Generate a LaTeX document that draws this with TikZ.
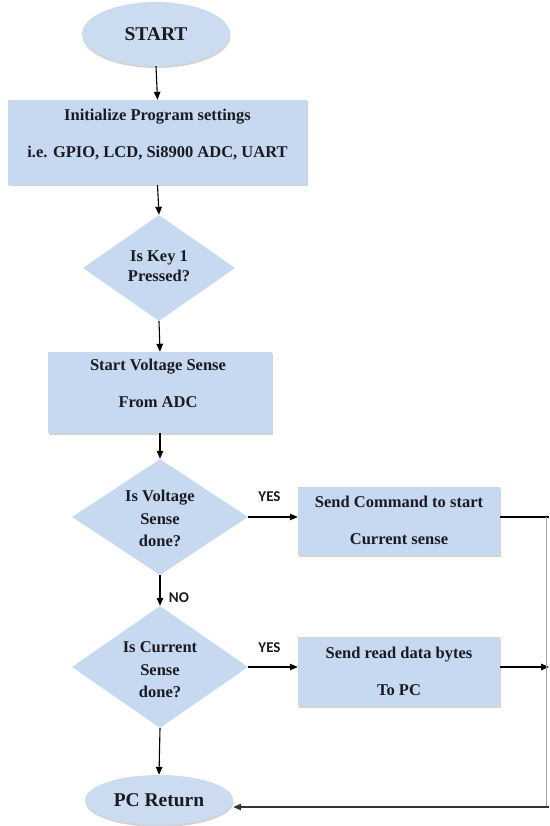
\documentclass[tikz,border=0pt]{standalone}
\usepackage{fontspec}
\setmainfont{Liberation Serif}
\newfontfamily\yesfont{Carlito}
\usetikzlibrary{shapes.geometric,arrows.meta,shadows,calc}
\definecolor{boxblue}{HTML}{C6D9F0}
\definecolor{ellblue}{HTML}{CCDCF0}
\definecolor{inkc}{HTML}{1A1A22}
\begin{document}
\begin{tikzpicture}[x=1pt,y=-1pt,
  procbox/.style={rectangle,fill=boxblue,draw=none,inner sep=0pt,
    drop shadow={opacity=0.35,shadow xshift=0.5pt,shadow yshift=-1.5pt}},
  termell/.style={ellipse,fill=ellblue,draw=none,inner sep=0pt,minimum width=148pt,
    text=inkc,font=\fontsize{19.5}{22}\selectfont\bfseries,
    drop shadow={opacity=0.35,shadow xshift=0.5pt,shadow yshift=-2pt}},
  decbox/.style={diamond,fill=boxblue,draw=none,inner sep=0pt,aspect=1.5},
  btext/.style={text=inkc,align=center,inner sep=0pt,font=\fontsize{16.5}{37}\selectfont\bfseries},
  dtext/.style={text=inkc,align=center,inner sep=0pt,font=\fontsize{16.5}{22.5}\selectfont\bfseries},
  yn/.style={text=inkc,inner sep=0pt,font=\fontsize{15}{17}\selectfont\yesfont\bfseries},
  arr/.style={-{Triangle[length=8pt,width=6.5pt]},line width=1.1pt,draw=black},
  plain/.style={line width=1.1pt,draw=black}
]
\useasboundingbox (0,0) rectangle (549,826);

% nodes
\node[termell,minimum height=64pt] (start) at (156,34) {START};
\node[procbox,minimum width=299pt,minimum height=85pt] (init) at (157.5,142.5) {};
\node[btext] (initT) at (157.5,134.5) {Initialize Program settings\\i.e. GPIO, LCD, Si8900 ADC, UART};

\node[decbox,minimum width=152pt,minimum height=106pt] (d1) at (159,268) {};
\node[dtext,font=\fontsize{16.5}{20}\selectfont\bfseries] (d1T) at (159,266) {Is Key 1\\Pressed?};

\node[procbox,minimum width=224pt,minimum height=81pt] (sv) at (160,392.5) {};
\node[btext] (svT) at (158,383.5) {Start Voltage Sense\\From ADC};

\node[decbox,minimum width=176pt,minimum height=116pt] (d2) at (160,517) {};
\node[dtext] (d2T) at (160,518.5) {Is Voltage\\Sense\\done?};

\node[procbox,minimum width=202pt,minimum height=68pt] (sc) at (399,521) {};
\node[btext] (scT) at (399,520) {Send Command to start\\Current sense};

\node[decbox,minimum width=176pt,minimum height=122pt] (d3) at (160,667) {};
\node[dtext] (d3T) at (160,670) {Is Current\\Sense\\done?};

\node[procbox,minimum width=202pt,minimum height=69pt] (rd) at (399,671.5) {};
\node[btext] (rdT) at (399,671) {Send read data bytes\\To PC};

\node[termell,minimum height=50pt] (pc) at (159,800) {PC Return};

% labels
\node[yn] (yes1) at (269.5,497) {YES};
\node[yn] (no1) at (179,598) {NO};
\node[yn] (yes2) at (269.5,648) {YES};

% right-side coordinates
\coordinate (r1) at (549,517);
\coordinate (r2) at (549,667);
\coordinate (r3) at (549,807);
\coordinate (v1) at (546.5,517);
\coordinate (v2) at (546.5,807);

% connectors
\draw[arr] (start.south) -- (init.north);
\draw[arr] (init.south) -- (d1.north);
\draw[arr] (d1.south) -- (sv.north);
\draw[arr] (sv.south) -- (d2.north);
\draw[arr] (d2.east) -- (sc.west |- d2.east);
\draw[arr] (d2.south) -- (d3.north);
\draw[arr] (d3.east) -- (rd.west |- d3.east);
\draw[arr] (d3.south) -- (pc.north);
\draw[plain] (sc.east |- r1) -- (r1);
\draw[arr] (rd.east |- r2) -- (r2);
\draw[gray!70,line width=0.6pt] (v1) -- (v2);
\draw[arr,draw=black!80,line width=1.3pt] (r3) -- (pc.east |- r3);
\end{tikzpicture}
\end{document}
